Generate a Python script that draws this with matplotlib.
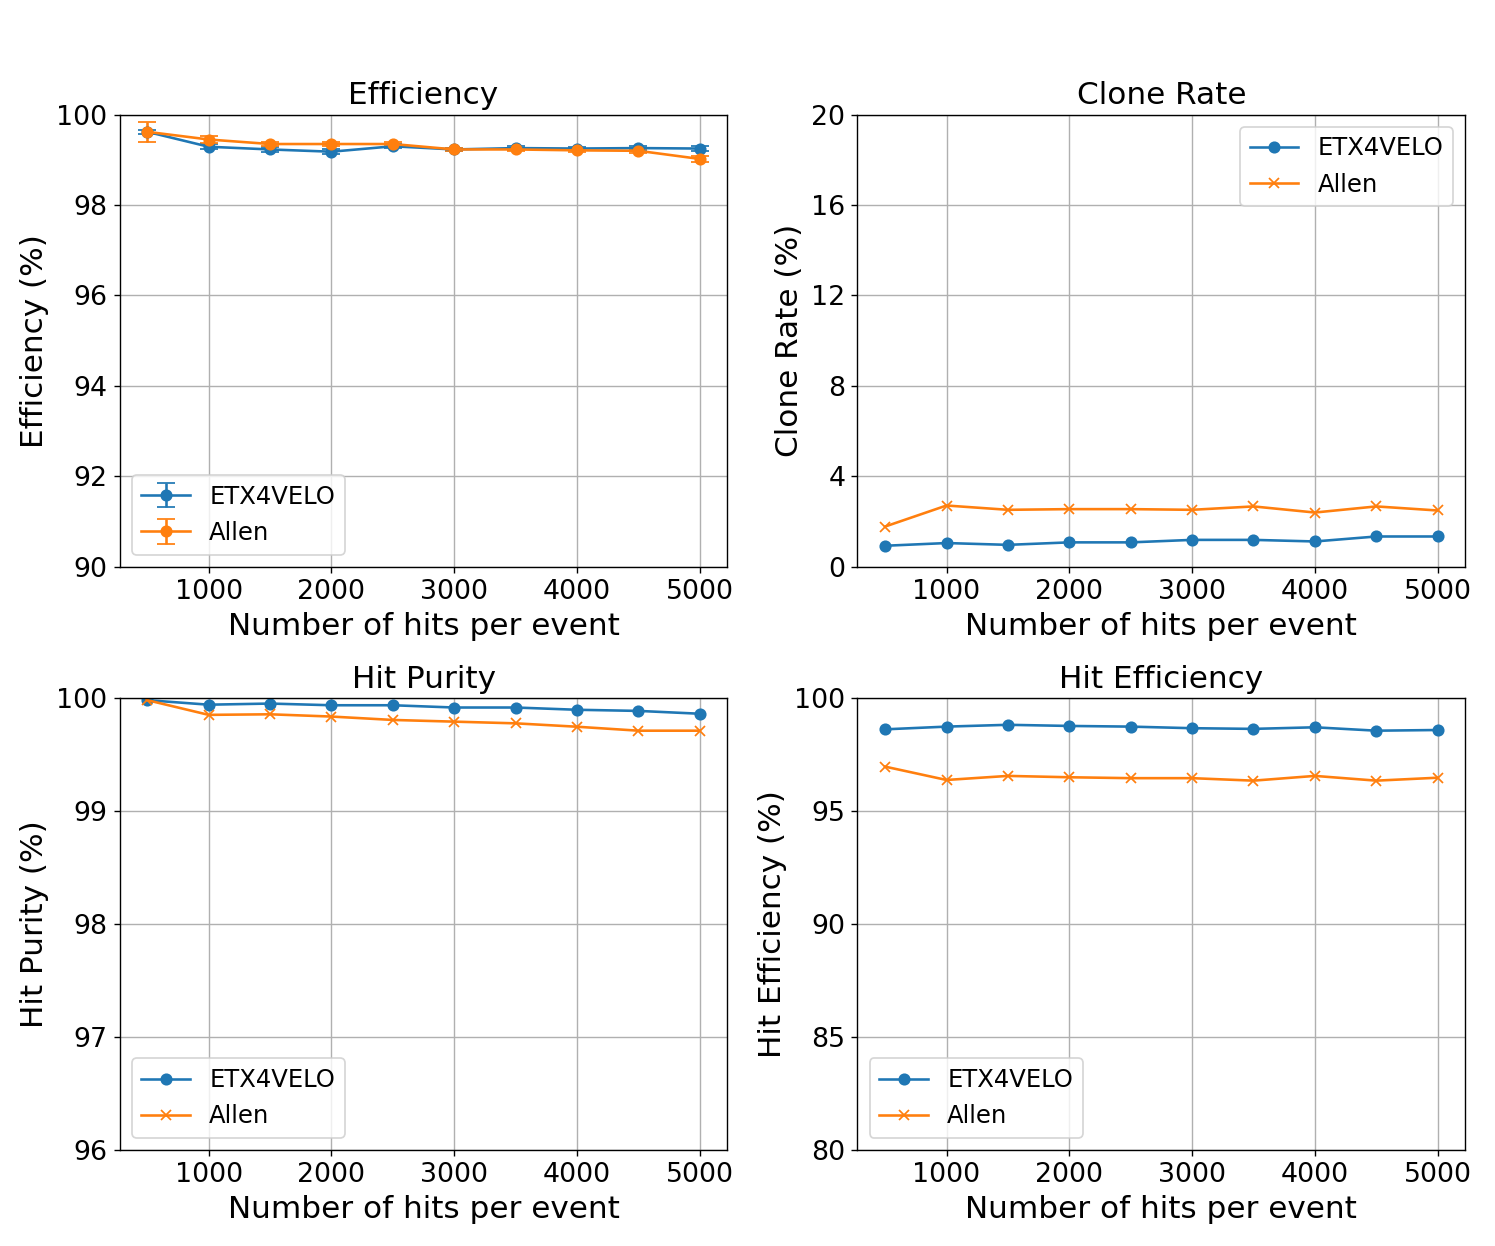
import matplotlib
matplotlib.use("Agg")
import matplotlib.pyplot as plt

hits = [500, 1000, 1500, 2000, 2500, 3000, 3500, 4000, 4500, 5000]

eff_etx = [99.62, 99.29, 99.23, 99.18, 99.30, 99.23, 99.26, 99.25, 99.26, 99.25]
eff_etx_err = [0.04, 0.06, 0.05, 0.05, 0.04, 0.04, 0.05, 0.04, 0.04, 0.06]
eff_allen = [99.62, 99.45, 99.35, 99.35, 99.35, 99.23, 99.23, 99.21, 99.20, 99.02]
eff_allen_err = [0.22, 0.07, 0.05, 0.05, 0.05, 0.04, 0.04, 0.04, 0.04, 0.07]

clone_etx = [0.93, 1.05, 0.97, 1.08, 1.08, 1.19, 1.19, 1.12, 1.34, 1.34]
clone_allen = [1.78, 2.71, 2.52, 2.55, 2.55, 2.52, 2.67, 2.40, 2.67, 2.49]

pur_etx = [99.98, 99.94, 99.95, 99.935, 99.935, 99.915, 99.915, 99.895, 99.885, 99.86]
pur_allen = [99.98, 99.85, 99.855, 99.835, 99.805, 99.79, 99.775, 99.745, 99.71, 99.71]

heff_etx = [98.61, 98.73, 98.81, 98.76, 98.73, 98.66, 98.63, 98.70, 98.55, 98.58]
heff_allen = [96.96, 96.37, 96.55, 96.49, 96.45, 96.45, 96.34, 96.55, 96.34, 96.47]

labels = ["ETX4VELO", "Allen"]
xlabel = "Number of hits per event"

TICK = 15.5
LEG = 14
LAB = 18

fig, axes = plt.subplots(2, 2, figsize=(12, 10), dpi=124.6)
fig.subplots_adjust(left=0.080, right=0.980, bottom=0.077, top=0.908, wspace=0.214, hspace=0.29)

def style(ax, title, ylabel, ylim, yticks, legend_loc):
    ax.set_title(title, fontsize=LAB)
    ax.set_xlabel(xlabel, fontsize=LAB)
    ax.set_ylabel(ylabel, fontsize=LAB)
    ax.set_ylim(*ylim)
    ax.set_yticks(yticks)
    ax.set_xticks([1000, 2000, 3000, 4000, 5000])
    ax.tick_params(labelsize=TICK)
    ax.grid(True)
    ax.legend(loc=legend_loc, fontsize=LEG)

ax = axes[0, 0]
ax.errorbar(hits, eff_etx, yerr=eff_etx_err, marker="o", capsize=5, label=labels[0])
ax.errorbar(hits, eff_allen, yerr=eff_allen_err, marker="o", capsize=5, label=labels[1])
style(ax, "Efficiency", "Efficiency (%)", (90, 100), [90, 92, 94, 96, 98, 100], "lower left")

ax = axes[0, 1]
ax.plot(hits, clone_etx, marker="o", label=labels[0])
ax.plot(hits, clone_allen, marker="x", label=labels[1])
style(ax, "Clone Rate", "Clone Rate (%)", (0, 20), [0, 4, 8, 12, 16, 20], "upper right")

ax = axes[1, 0]
ax.plot(hits, pur_etx, marker="o", label=labels[0])
ax.plot(hits, pur_allen, marker="x", label=labels[1])
style(ax, "Hit Purity", "Hit Purity (%)", (96, 100), [96, 97, 98, 99, 100], "lower left")

ax = axes[1, 1]
ax.plot(hits, heff_etx, marker="o", label=labels[0])
ax.plot(hits, heff_allen, marker="x", label=labels[1])
style(ax, "Hit Efficiency", "Hit Efficiency (%)", (80, 100), [80, 85, 90, 95, 100], "lower left")

fig.savefig("out.png", dpi=124.6)
